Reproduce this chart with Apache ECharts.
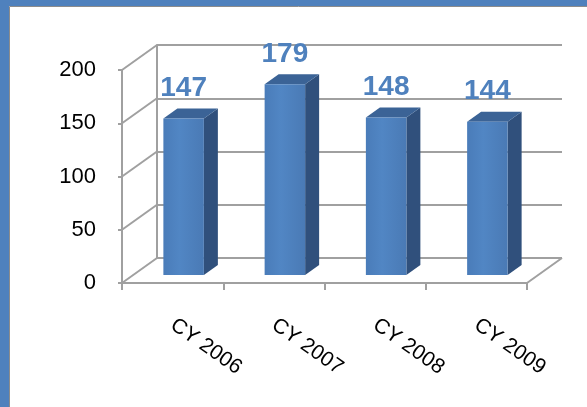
<!DOCTYPE html>
<html>
<head>
<meta charset="utf-8">
<style>
  html, body { margin: 0; padding: 0; background: #fff; }
  #chart { width: 587px; height: 407px; }
</style>
<script src="https://cdn.jsdelivr.net/npm/echarts@6/dist/echarts.min.js"></script>
</head>
<body>
<div id="chart"></div>
<script>
// 数据
const categories = ['CY 2006', 'CY 2007', 'CY 2008', 'CY 2009']
const values = [147, 179, 148, 144]
const yTicks = [0, 50, 100, 150, 200]

// 3D 偏移 (像素)
const WALL_DX = 35, WALL_DY = -25 // 前 -> 后墙
const FRONT_DX = 11, FRONT_DY = -8 // 柱子正面所在深度
const BAR_DX = 14, BAR_DY = -10 // 柱子厚度
const LINE = '#a0a0a0'
const FONT = '"Liberation Sans", Arial, sans-serif'

const myChart = echarts.init(document.getElementById('chart'))

// 柱子
const renderBar = (params, api) => {
  const i = api.value(0), v = api.value(1)
  const base = api.coord([i, 0]), top = api.coord([i, v])
  const w = api.size([1, 0])[0] * 0.4
  const x0 = base[0] - w / 2 + FRONT_DX, x1 = x0 + w
  const yb = base[1] + FRONT_DY, yt = top[1] + FRONT_DY
  return {
    type: 'group',
    children: [
      {
        type: 'polygon',
        shape: { points: [[x1, yt], [x1 + BAR_DX, yt + BAR_DY], [x1 + BAR_DX, yb + BAR_DY], [x1, yb]] },
        style: { fill: '#30507c' }
      },
      {
        type: 'polygon',
        shape: { points: [[x0, yt], [x0 + BAR_DX, yt + BAR_DY], [x1 + BAR_DX, yt + BAR_DY], [x1, yt]] },
        style: { fill: '#3b6396' }
      },
      {
        type: 'rect',
        shape: { x: x0, y: yt, width: w, height: yb - yt },
        style: {
          fill: new echarts.graphic.LinearGradient(0, 0, 1, 0, [
            { offset: 0, color: '#4a7cb9' },
            { offset: 0.4, color: '#5186c4' },
            { offset: 1, color: '#4a7ab5' }
          ])
        }
      },
      {
        type: 'text',
        style: {
          text: String(v),
          x: (x0 + x1) / 2,
          y: yt - 30,
          align: 'center',
          verticalAlign: 'middle',
          fill: '#4f81bd',
          font: 'bold 28px ' + FONT
        }
      }
    ]
  }
}

// 侧墙斜线
const renderDiag = (params, api) => {
  const cs = params.coordSys
  const v = api.value(1)
  const y = api.coord([0, v])[1]
  const lineStyle = { stroke: LINE, lineWidth: 2 }
  const children = [
    { type: 'line', shape: { x1: cs.x, y1: y, x2: cs.x + WALL_DX, y2: y + WALL_DY }, style: lineStyle }
  ]
  if (v === 0) {
    const xr = cs.x + cs.width
    children.push({ type: 'line', shape: { x1: xr, y1: y, x2: xr + WALL_DX, y2: y + WALL_DY }, style: lineStyle })
  }
  return { type: 'group', children }
}

const option = {
  animation: false,
  // 蓝色边框
  graphic: [
    { type: 'rect', shape: { x: 0, y: 0, width: 587, height: 6 }, style: { fill: '#4f81bd' }, z: 100 },
    { type: 'rect', shape: { x: 0, y: 0, width: 9, height: 407 }, style: { fill: '#4f81bd' }, z: 100 },
    { type: 'line', shape: { x1: 9.5, y1: 6.5, x2: 9.5, y2: 407 }, style: { stroke: '#8c8c8c', lineWidth: 1 }, z: 100 },
    { type: 'line', shape: { x1: 9.5, y1: 6.5, x2: 587, y2: 6.5 }, style: { stroke: '#8c8c8c', lineWidth: 1 }, z: 100 }
  ],
  grid: [
    { left: 122, right: 60, top: 70, bottom: 124 }, // 前
    { left: 122 + WALL_DX, right: 60 - WALL_DX, top: 70 + WALL_DY, bottom: 124 - WALL_DY } // 后墙
  ],
  xAxis: [
    {
      gridIndex: 0,
      type: 'category',
      data: categories,
      axisLine: { lineStyle: { color: LINE, width: 2 } },
      axisTick: { show: true, length: 7, lineStyle: { color: LINE, width: 2 } },
      axisLabel: {
        rotate: -35,
        margin: 40,
        color: '#000',
        fontSize: 21,
        fontFamily: FONT
      }
    },
    { gridIndex: 1, type: 'category', data: categories, show: false }
  ],
  yAxis: [
    {
      gridIndex: 0,
      type: 'value',
      min: 0,
      max: 200,
      interval: 50,
      axisLine: { show: true, lineStyle: { color: LINE, width: 2 } },
      axisTick: { show: true, length: 4, lineStyle: { color: LINE, width: 2 } },
      splitLine: { show: false },
      axisLabel: {
        margin: 26,
        color: '#000',
        fontSize: 22,
        fontFamily: FONT
      }
    },
    {
      gridIndex: 1,
      type: 'value',
      min: 0,
      max: 200,
      interval: 50,
      axisLine: { show: true, lineStyle: { color: LINE, width: 2 } },
      axisTick: { show: false },
      axisLabel: { show: false },
      splitLine: { show: true, lineStyle: { color: LINE, width: 2 } }
    }
  ],
  series: [
    {
      type: 'custom',
      xAxisIndex: 0,
      yAxisIndex: 0,
      renderItem: renderDiag,
      data: yTicks.map(v => [0, v]),
      z: 1,
      silent: true
    },
    {
      type: 'custom',
      xAxisIndex: 0,
      yAxisIndex: 0,
      renderItem: renderBar,
      data: values.map((v, i) => [i, v]),
      z: 5
    }
  ]
}

myChart.setOption(option)
</script>
</body>
</html>
